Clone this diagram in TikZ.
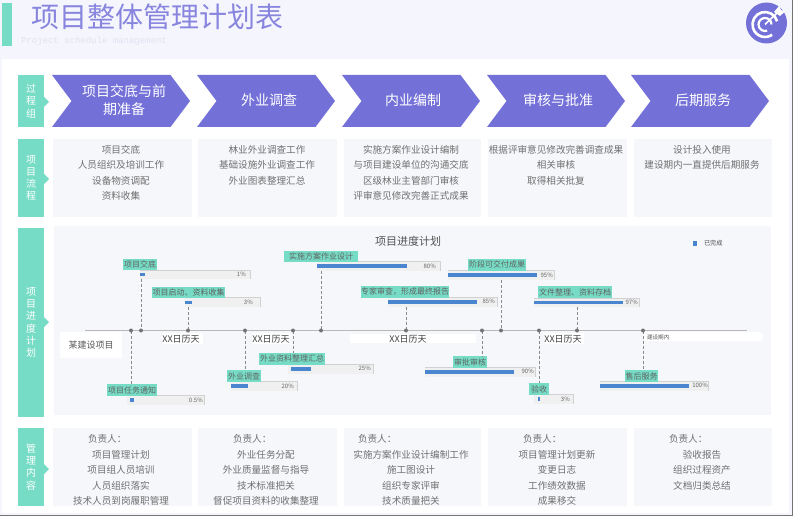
\documentclass[tikz,border=0pt]{standalone}
\usepackage{fontspec}
\setmainfont{Noto Sans CJK SC}
\newfontfamily\monof{Liberation Mono}
\definecolor{bgc}{HTML}{F5F6FD}
\definecolor{tealc}{HTML}{76DCC6}
\definecolor{purp}{HTML}{7370D8}
\definecolor{cardc}{HTML}{F6F7FB}
\definecolor{listc}{HTML}{707070}
\definecolor{barc}{HTML}{4A86CF}
\definecolor{trackc}{HTML}{F0F0F0}
\definecolor{axisc}{HTML}{B8B8B8}
\definecolor{dashc}{HTML}{8A8A8A}
\definecolor{subc}{HTML}{DFE2F0}
\tikzset{
 plain/.style={inner sep=0pt,outer sep=0pt,anchor=center},
 sidebox/.style={plain,fill=tealc,text=white,font=\fontsize{10}{12.2}\selectfont,align=center},
 cardbox/.style={plain,fill=cardc},
 listtext/.style={plain,text=listc,font=\fontsize{9.6}{15.6}\selectfont,align=center},
 chev/.style={fill=purp},
 chevtext/.style={plain,text=white,font=\fontsize{14}{18}\selectfont,align=center},
 tasklabel/.style={plain,fill=tealc,text=black!62,font=\fontsize{8}{10}\selectfont},
 trackbox/.style={plain,fill=trackc},
 barbox/.style={plain,fill=barc},
 pct/.style={inner sep=0pt,anchor=east,text=black!60,font=\fontsize{6}{7}\selectfont},
 whitebox/.style={plain,fill=white},
 daytext/.style={plain,text=black!75,font=\fontsize{9}{11}\selectfont},
 leader/.style={dashc,densely dashed,line width=.8pt},
 tick/.style={circle,fill=black!55,inner sep=0pt,minimum size=4pt},
}
% \pb{name}{style}{x1}{y1}{x2}{y2}{text}
\newcommand{\pb}[7]{\pgfmathsetmacro{\bw}{#5-#3}\pgfmathsetmacro{\bh}{#6-#4}%
 \pgfmathsetmacro{\bx}{(#3+#5)/2}\pgfmathsetmacro{\by}{(#4+#6)/2}%
 \node[#2,minimum width=\bw pt,minimum height=\bh pt] (#1) at (\bx,\by) {#7};}
% \chv{left}
\newcommand{\chv}[1]{\draw[chev,draw=none] (#1,75) -- ++(118.5,0) -- ++(19.5,26) -- ++(-19.5,26) -- ++(-118.5,0) -- ++(19.5,-26) -- cycle;}
% \tlab{id}{x1}{y1}{x2}{y2}{text}
\newcommand{\tlab}[6]{\pb{#1L}{tasklabel}{#2}{#3}{#4}{#5}{#6}}
% \ttrack{id}{x1}{y1}{x2}{y2}{bar1}{bar2}{pctx}{pct}
\newcommand{\ttrack}[9]{\pb{#1T}{trackbox}{#2}{#3}{#4}{#5}{}
 \draw[black!18,line width=.7pt] (#2,#3) -- (#4,#3) -- (#4,#5);
 \pgfmathsetmacro{\ba}{#3+3.2}\pgfmathsetmacro{\bb}{#5-2.8}
 \pb{#1B}{barbox}{#6}{\ba}{#7}{\bb}{}
 \pgfmathsetmacro{\pc}{(#3+#5)/2}
 \node[pct] (#1P) at (#8,\pc) {#9};}
\begin{document}
\begin{tikzpicture}[x=1pt,y=-1pt]
\useasboundingbox (0,0) rectangle (793,516);
\fill[bgc] (0,0) rectangle (793,516);
\fill[white] (2,59) rectangle (789,513);
\fill[black!55] (791.5,0) rectangle (793,516);
\fill[black!55] (0,514.5) rectangle (793,516);
% header
\pb{hbar}{plain,fill=tealc}{2}{3}{12}{46}{}
\node[plain,anchor=west,text=purp!85,font=\fontsize{28}{32}\selectfont] (title) at (31,17) {项目整体管理计划表};
\node[plain,anchor=west,text=subc,font=\monof\fontsize{9}{10}\selectfont] (subtitle) at (21,41.5) {Project schedule management};
% icon
\node[plain,circle,fill=purp,minimum size=41pt] (icon) at (766.5,23) {};
\draw[white,line width=2.6pt] (765,24.5) ++(-15:12.5) arc[start angle=-15,end angle=-305,radius=12.5];
\draw[white,line width=2.2pt] (765,24.5) ++(0:6.5) arc[start angle=0,end angle=-290,radius=6.5];
\draw[white,line width=1.6pt] (765,24.5) -- (778,12);
\fill[white] (774,12) -- (779,6) -- (781,10) -- (785,11.5) -- (780,16) -- cycle;
% side labels
\pb{s1}{sidebox}{18}{75}{44}{127}{过\\程\\组}
\pb{s2}{sidebox}{18}{139}{44}{217}{项\\目\\流\\程}
\pb{s3}{sidebox}{18}{228}{44}{417}{项\\目\\进\\度\\计\\划}
\pb{s4}{sidebox}{18}{428}{44}{506}{管\\理\\内\\容}
\foreach \n/\yy in {s1/102,s2/179,s3/322,s4/469}{\fill[tealc] (44,\yy-5) -- (49,\yy) -- (44,\yy+5) -- cycle;}
% chevrons
\chv{52}\chv{197}\chv{342}\chv{487}\chv{631}
\node[chevtext] (c1t) at (124,100) {项目交底与前\\期准备};
\node[chevtext] (c2t) at (269,100) {外业调查};
\node[chevtext] (c3t) at (413,100) {内业编制};
\node[chevtext] (c4t) at (558,100) {审核与批准};
\node[chevtext] (c5t) at (703,100) {后期服务};
% cards
\foreach \n/\a/\b in {1/53/192,2/198/337,3/344/481,4/488/627,5/634/772}{
 \pb{p\n}{cardbox}{\a}{139}{\b}{217}{}
 \pb{m\n}{cardbox}{\a}{428}{\b}{506}{}
}
\node[listtext,anchor=north] (pt1) at (121,145) {项目交底\\人员组织及培训工作\\设备物资调配\\资料收集};
\node[listtext,anchor=north] (pt2) at (267,145) {林业外业调查工作\\基础设施外业调查工作\\外业图表整理汇总};
\node[listtext,anchor=north] (pt3) at (411,145) {实施方案作业设计编制\\与项目建设单位的沟通交底\\区级林业主管部门审核\\评审意见修改完善正式成果};
\node[listtext,anchor=north] (pt4) at (556,145) {根据评审意见修改完善调查成果\\相关审核\\取得相关批复};
\node[listtext,anchor=north] (pt5) at (702,145) {设计投入使用\\建设期内一直提供后期服务};
% management
\node[listtext,anchor=north] (mt1) at (121,450) {项目管理计划\\项目组人员培训\\人员组织落实\\技术人员到岗履职管理};
\node[listtext,anchor=north] (mt2) at (266,450) {外业任务分配\\外业质量监督与指导\\技术标准把关\\督促项目资料的收集整理};
\node[listtext,anchor=north] (mt3) at (411,450) {实施方案作业设计编制工作\\施工图设计\\组织专家评审\\技术质量把关};
\node[listtext,anchor=north] (mt4) at (557,450) {项目管理计划更新\\变更日志\\工作绩效数据\\成果移交};
\node[listtext,anchor=north] (mt5) at (702,450) {验收报告\\组织过程资产\\文档归类总结};
\foreach \n/\a in {1/88,2/233,3/358,4/523,5/669}{
 \node[listtext,anchor=west] (mh\n) at (\a,438.5) {负责人：};
}
% chart
\pb{chart}{plain,fill=cardc}{54}{226}{771}{415}{}
\node[plain,text=black!68,font=\fontsize{11}{13}\selectfont] (ctitle) at (408,241) {项目进度计划};
\pb{lg}{barbox}{693}{241}{697}{246}{}
\node[plain,anchor=west,text=black!70,font=\fontsize{6.2}{8}\selectfont] (lgt) at (704,243.5) {已完成};
% axis
\coordinate (axL) at (85,330.5);
\coordinate (axR) at (747,330.5);
\draw[axisc,line width=.8pt] (axL) -- (axR);
\foreach \n/\xx in {a1/131,a2/141,a3/188,a4/245,a5/293,a6/321,a7/406,a8/482,a9/501,a10/539,a11/577,a12/643}{
 \coordinate (\n) at (\xx,330.5);
}
\pb{proj}{whitebox,text=black!65,font=\fontsize{9}{11}\selectfont}{60}{332}{122}{358}{某建设项目}
\pb{d1b}{whitebox}{162}{333}{203}{344}{}
\pb{d2b}{whitebox}{252}{333}{290}{344}{}
\pb{d3b}{whitebox}{350}{334}{476}{343}{}
\pb{d4b}{whitebox}{545}{333}{584}{344}{}
\node[daytext] (d1) at (181,339) {XX日历天};
\node[daytext] (d2) at (271,339) {XX日历天};
\node[daytext] (d3) at (408,339) {XX日历天};
\node[daytext] (d4) at (563,339) {XX日历天};
\pb{jsb}{whitebox,rounded corners=4pt}{643}{332}{763}{341}{}
\node[plain,anchor=west,text=black!65,font=\fontsize{5.6}{7}\selectfont] (jst) at (647,337) {建设期内};
% leaders first, tasks over them
\ttrack{t1}{140}{270}{250}{279}{140}{145}{246}{1\%}
\tlab{t1}{123}{258.5}{157}{270}{项目交底}
\ttrack{t2}{185}{297.5}{260}{307}{185}{192}{253}{3\%}
\tlab{t2}{152}{287}{225}{298}{项目启动、资料收集}
\ttrack{t3}{317}{261}{440}{271}{317}{407}{436}{80\%}
\tlab{t3}{284}{251}{358}{262}{实施方案作业设计}
\ttrack{t4}{448}{270}{554}{280}{448}{537}{553}{95\%}
\tlab{t4}{468}{258.5}{526}{270.5}{阶段可交付成果}
\ttrack{t5}{388}{297}{497}{306.5}{388}{477}{495}{85\%}
\tlab{t5}{361}{286}{449}{298}{专家审查，形成最终报告}
\ttrack{t6}{534}{298}{639}{307}{534}{623}{638}{97\%}
\tlab{t6}{538}{286}{612}{298}{文件整理、资料存档}
\ttrack{t8}{127}{395}{204}{405}{130}{134}{203}{0.5\%}
\tlab{t8}{107}{384}{157}{396}{项目任务通知}
\ttrack{t9}{231}{381}{297}{391}{231}{248}{294}{20\%}
\tlab{t9}{227}{370}{261}{382}{外业调查}
\ttrack{t10}{288}{364}{373}{373.5}{291}{311}{371}{25\%}
\tlab{t10}{259}{353}{325}{364.5}{外业资料整理汇总}
\ttrack{t11}{425}{367}{535}{376.5}{425}{514}{534}{90\%}
\tlab{t11}{453}{356}{487}{368}{审批审核}
\ttrack{t12}{534}{394}{573}{404}{538}{540}{570}{3\%}
\tlab{t12}{529}{383}{549}{395}{验收}
\ttrack{t13}{600}{381}{708}{390.5}{600}{689}{708}{100\%}
\tlab{t13}{625}{370}{658}{382}{售后服务}
% leaders
\draw[leader] (t1T.south -| a2) -- (a2);
\draw[leader] (t2T.south -| a3) -- (a3);
\draw[leader] (t3T.south -| a6) -- (a6);
\draw[leader] (t4T.south -| a9) -- (a9);
\draw[leader] (t5T.south -| a7) -- (a7);
\draw[leader] (t6T.south -| a11) -- (a11);
\draw[leader] (a1) -- (t8L.north -| a1);
\draw[leader] (a4) -- (t9L.north -| a4);
\draw[leader] (a5) -- (t10L.north -| a5);
\draw[leader] (a8) -- (t11L.north -| a8);
\draw[leader] (a10) -- (t12L.north -| a10);
\draw[leader] (a12) -- (t13L.north -| a12);
\foreach \n in {a1,a2,a3,a4,a5,a6,a7,a8,a9,a10,a11,a12}{
 \node[tick] at (\n) {};
}
\end{tikzpicture}
\end{document}
